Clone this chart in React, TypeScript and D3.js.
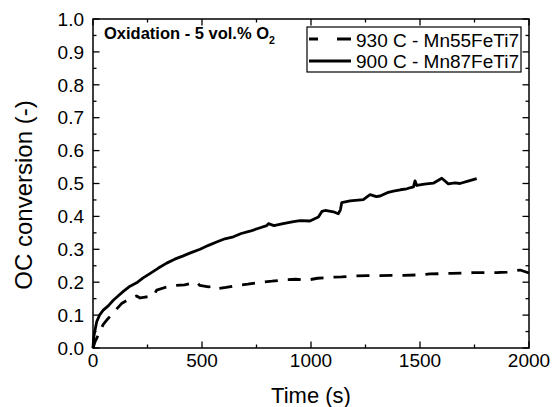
import React from "react";
import * as d3 from "d3";

const solidT = [0, 3, 8, 17, 30, 47, 70, 93, 115, 139, 170, 200, 230, 261, 300, 338, 375, 414, 450, 491, 530, 567, 605, 644, 680, 720, 760, 797, 805, 830, 872, 920, 950, 995, 1034, 1050, 1065, 1103, 1125, 1135, 1141, 1179, 1240, 1271, 1300, 1317, 1350, 1378, 1410, 1439, 1470, 1477, 1485, 1520, 1561, 1600, 1630, 1660, 1683, 1720, 1760];
const solidV = [0, 0.03, 0.05, 0.08, 0.1, 0.115, 0.128, 0.145, 0.158, 0.172, 0.188, 0.198, 0.213, 0.226, 0.243, 0.258, 0.27, 0.28, 0.29, 0.3, 0.312, 0.322, 0.332, 0.338, 0.348, 0.355, 0.364, 0.372, 0.378, 0.372, 0.378, 0.384, 0.387, 0.386, 0.398, 0.415, 0.418, 0.414, 0.408, 0.42, 0.442, 0.447, 0.451, 0.466, 0.46, 0.462, 0.472, 0.477, 0.481, 0.484, 0.49, 0.508, 0.494, 0.498, 0.501, 0.516, 0.499, 0.502, 0.5, 0.507, 0.515];

const dashT = [0, 10, 25, 47, 63, 90, 131, 170, 200, 216, 240, 277, 292, 330, 368, 420, 475, 490, 530, 552, 567, 610, 659, 710, 766, 820, 873, 930, 980, 1030, 1087, 1140, 1202, 1260, 1317, 1370, 1424, 1490, 1546, 1600, 1645, 1700, 1745, 1800, 1852, 1900, 1959, 2000];
const dashV = [0, 0.02, 0.04, 0.072, 0.085, 0.105, 0.135, 0.15, 0.158, 0.152, 0.155, 0.157, 0.176, 0.184, 0.19, 0.192, 0.2, 0.19, 0.186, 0.188, 0.18, 0.184, 0.19, 0.194, 0.2, 0.203, 0.207, 0.209, 0.206, 0.212, 0.215, 0.216, 0.219, 0.22, 0.22, 0.221, 0.221, 0.222, 0.225, 0.226, 0.227, 0.228, 0.229, 0.229, 0.229, 0.231, 0.237, 0.228];

const xTicks = [0, 500, 1000, 1500, 2000];
const xMinor = [250, 750, 1250, 1750];
const yTicks = [0, 0.1, 0.2, 0.3, 0.4, 0.5, 0.6, 0.7, 0.8, 0.9, 1.0];
const yMinor = [0.05, 0.15, 0.25, 0.35, 0.45, 0.55, 0.65, 0.75, 0.85, 0.95];
const legendLabels = ["930 C - Mn55FeTi7", "900 C - Mn87FeTi7"];

const W = 553, H = 407;
const L = 93, R = 529, T = 19, B = 348;
const FONT = "'Liberation Sans', Arial, sans-serif";

export default function App() {
  const x = d3.scaleLinear().domain([0, 2000]).range([L, R]);
  const y = d3.scaleLinear().domain([0, 1]).range([B, T]);
  const line = d3.line<[number, number]>().x((d) => x(d[0])).y((d) => y(d[1]));
  const solid = line(solidT.map((t, i) => [t, solidV[i]] as [number, number])) || "";
  const dashed = line(dashT.map((t, i) => [t, dashV[i]] as [number, number])) || "";
  const maj = 6.5, mn = 3.5;
  return (
    <svg width={W} height={H} style={{ position: "absolute", left: 0, top: 0 }} fontFamily={FONT}>
      <rect width={W} height={H} fill="#fff" />
      <path d={dashed} fill="none" stroke="#000" strokeWidth={2.8} strokeDasharray="13 10" strokeLinejoin="round" />
      <path d={solid} fill="none" stroke="#000" strokeWidth={2.8} strokeLinejoin="round" />
      <rect x={L} y={T} width={R - L} height={B - T} fill="none" stroke="#000" strokeWidth={1.5} />
      {xTicks.map((t) => (
        <g key={"xt" + t}>
          <line x1={x(t)} x2={x(t)} y1={B} y2={B - maj} stroke="#000" strokeWidth={1.3} />
          <line x1={x(t)} x2={x(t)} y1={T} y2={T + maj} stroke="#000" strokeWidth={1.3} />
          <text x={x(t)} y={367} textAnchor="middle" fontSize={19}>{t}</text>
        </g>
      ))}
      {xMinor.map((t) => (
        <g key={"xm" + t}>
          <line x1={x(t)} x2={x(t)} y1={B} y2={B - mn} stroke="#000" strokeWidth={1.3} />
          <line x1={x(t)} x2={x(t)} y1={T} y2={T + mn} stroke="#000" strokeWidth={1.3} />
        </g>
      ))}
      {yTicks.map((v) => (
        <g key={"yt" + v}>
          <line x1={L} x2={L + maj} y1={y(v)} y2={y(v)} stroke="#000" strokeWidth={1.3} />
          <line x1={R} x2={R - maj} y1={y(v)} y2={y(v)} stroke="#000" strokeWidth={1.3} />
          <text x={84} y={y(v) + 6.7} textAnchor="end" fontSize={19}>{v.toFixed(1)}</text>
        </g>
      ))}
      {yMinor.map((v) => (
        <g key={"ym" + v}>
          <line x1={L} x2={L + mn} y1={y(v)} y2={y(v)} stroke="#000" strokeWidth={1.3} />
          <line x1={R} x2={R - mn} y1={y(v)} y2={y(v)} stroke="#000" strokeWidth={1.3} />
        </g>
      ))}
      <text x={311} y={403} textAnchor="middle" fontSize={22}>Time (s)</text>
      <text transform="translate(32,195) rotate(-90)" textAnchor="middle" fontSize={24}>OC conversion (-)</text>
      <text x={104} y={39} fontSize={16.5} fontWeight="bold">
        Oxidation - 5 vol.% O<tspan fontSize={10.5} dy={5}>2</tspan>
      </text>
      <rect x={307} y={27} width={214} height={45} fill="#fff" stroke="#000" strokeWidth={1.2} />
      <line x1={309} x2={351} y1={39} y2={39} stroke="#000" strokeWidth={2.8} strokeDasharray="9 19 14 100" />
      <line x1={309} x2={351} y1={61} y2={61} stroke="#000" strokeWidth={2.8} />
      {legendLabels.map((s, i) => (
        <text key={s} x={356} y={46.5 + i * 21.5} fontSize={19}>{s}</text>
      ))}
    </svg>
  );
}
